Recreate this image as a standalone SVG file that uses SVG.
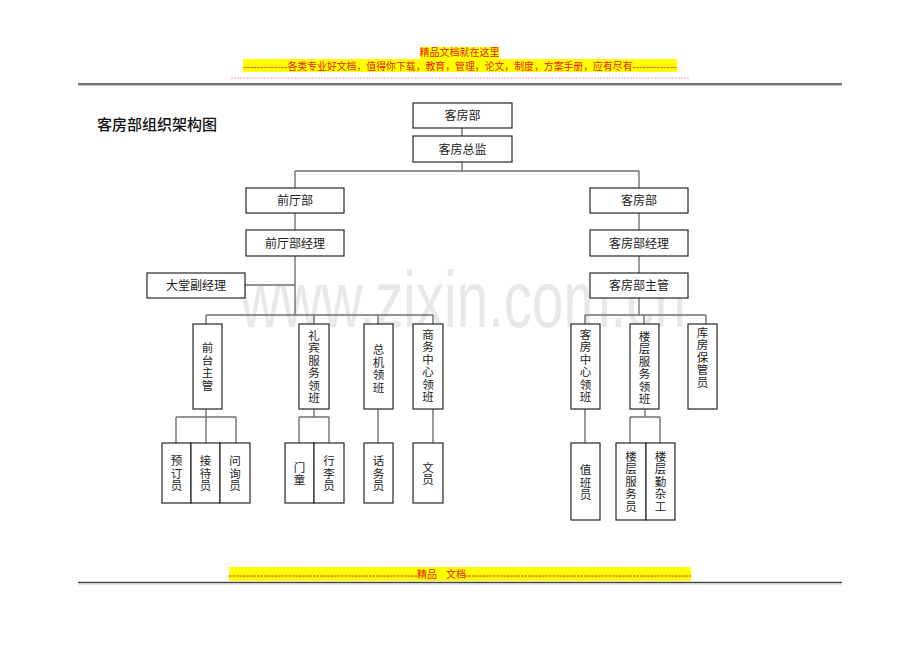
<svg xmlns="http://www.w3.org/2000/svg" width="920" height="651" viewBox="0 0 920 651">
<style>
.box{fill:#fff;stroke:#262626;stroke-width:1.2}
.t{font-family:"Noto Sans CJK SC","Noto Sans CJK JP",sans-serif;font-size:12px;fill:#222;text-anchor:middle}
.v{font-family:"Noto Sans CJK SC","Noto Sans CJK JP",sans-serif;font-size:11.5px;fill:#222;text-anchor:middle;writing-mode:vertical-rl;letter-spacing:1px}
.ln{stroke:#707070;stroke-width:1.4;fill:none}
.hdr{font-family:"Noto Sans CJK SC",sans-serif;font-size:10px;fill:#e8200c}
</style>
<rect width="920" height="651" fill="#fff"/>
<text x="240" y="327" font-family="Liberation Sans, Arial, sans-serif" font-size="80" fill="#e8e8e8" textLength="446" lengthAdjust="spacingAndGlyphs">www.zixin.com.cn</text>
<g id="header">
<rect x="420" y="47" width="79" height="12" fill="#ffff00"/>
<text class="hdr" x="459.5" y="55.5" text-anchor="middle">精品文档就在这里</text>
<rect x="243" y="59" width="434" height="13" fill="#ffff00"/>
<text class="hdr" x="243" y="70" textLength="434" lengthAdjust="spacingAndGlyphs">-------------各类专业好文档，值得你下载，教育，管理，论文，制度，方案手册，应有尽有-------------</text>
<line x1="231" y1="78" x2="689" y2="78" stroke="#f4a6b0" stroke-width="1.2" stroke-dasharray="2,1"/>
<line x1="78" y1="84" x2="842" y2="84" stroke="#444" stroke-width="1.4"/>
<line x1="78" y1="85.5" x2="842" y2="85.5" stroke="#ccc" stroke-width="1"/>
</g>
<text id="title" x="97" y="130" font-family="Noto Sans CJK SC, sans-serif" font-size="15" font-weight="500" fill="#111">客房部组织架构图</text>
<g id="connectors" class="ln">
<path d="M462 128V136M462 162V171M295 171H639M295 171V188M639 171V188"/>
<path d="M295 213V230M295 256V315M245 285H295M206 315H433M206 315V324M314 315V324M378 315V324M433 315V324"/>
<path d="M639 213V230M639 256V273M639 298V315M585 315H706M585 315V324M644 315V324M706 315V324"/>
<path d="M206 409V443M176 417H236M176 417V443M236 417V443"/>
<path d="M314 409V417M299 417H329M299 417V443M329 417V443"/>
<path d="M378 409V443M433 409V443"/>
<path d="M585 409V443M645 409V417M630 417H660M630 417V443M660 417V443"/>
</g>
<g id="n-kefangbu"><rect class="box" x="413" y="103" width="99" height="25"/><text class="t" x="462.5" y="120">客房部</text></g>
<g id="n-zongjian"><rect class="box" x="413" y="136" width="99" height="26"/><text class="t" x="462.5" y="153.5">客房总监</text></g>
<g id="n-qiantingbu"><rect class="box" x="246" y="188" width="98" height="25"/><text class="t" x="295" y="205">前厅部</text></g>
<g id="n-qiantingjingli"><rect class="box" x="246" y="230" width="98" height="26"/><text class="t" x="295" y="247.5">前厅部经理</text></g>
<g id="n-datang"><rect class="box" x="147" y="273" width="98" height="25"/><text class="t" x="196" y="290">大堂副经理</text></g>
<g id="n-kefangbu2"><rect class="box" x="590" y="188" width="98" height="25"/><text class="t" x="639" y="205">客房部</text></g>
<g id="n-kefangjingli"><rect class="box" x="590" y="230" width="98" height="26"/><text class="t" x="639" y="247.5">客房部经理</text></g>
<g id="n-kefangzhuguan"><rect class="box" x="590" y="273" width="98" height="25"/><text class="t" x="639" y="290">客房部主管</text></g>
<g id="n-qiantai"><rect class="box" x="193" y="324" width="29" height="85"/><text class="v" x="207.5" y="367">前台主管</text></g>
<g id="n-libin"><rect class="box" x="299" y="324" width="30" height="85"/><text class="v" x="314" y="367">礼宾服务领班</text></g>
<g id="n-zongji"><rect class="box" x="364" y="324" width="29" height="85"/><text class="v" x="378.5" y="369">总机领班</text></g>
<g id="n-shangwu"><rect class="box" x="413" y="324" width="30" height="85"/><text class="v" x="428" y="366">商务中心领班</text></g>
<g id="n-kefangzhongxin"><rect class="box" x="571" y="324" width="29" height="85"/><text class="v" x="585.5" y="366">客房中心领班</text></g>
<g id="n-loucenglingban"><rect class="box" x="630" y="324" width="29" height="85"/><text class="v" x="644.5" y="368">楼层服务领班</text></g>
<g id="n-kufang"><rect class="box" x="688" y="324" width="29" height="85"/><text class="v" x="702.5" y="358">库房保管员</text></g>
<g id="n-yuding"><rect class="box" x="162" y="443" width="29" height="60"/><text class="v" x="176.5" y="474">预订员</text></g>
<g id="n-jiedai"><rect class="box" x="191" y="443" width="29" height="60"/><text class="v" x="205.5" y="474">接待员</text></g>
<g id="n-wenxun"><rect class="box" x="220" y="443" width="30" height="60"/><text class="v" x="235" y="474">问询员</text></g>
<g id="n-mentong"><rect class="box" x="285" y="443" width="29" height="60"/><text class="v" x="299.5" y="474">门童</text></g>
<g id="n-xingli"><rect class="box" x="314" y="443" width="30" height="60"/><text class="v" x="329" y="474">行李员</text></g>
<g id="n-huawu"><rect class="box" x="364" y="443" width="29" height="60"/><text class="v" x="378.5" y="474">话务员</text></g>
<g id="n-wenyuan"><rect class="box" x="413" y="443" width="30" height="60"/><text class="v" x="428" y="474">文员</text></g>
<g id="n-zhiban"><rect class="box" x="571" y="443" width="29" height="77"/><text class="v" x="585.5" y="483">值班员</text></g>
<g id="n-louceng-fuwu"><rect class="box" x="616" y="443" width="30" height="77"/><text class="v" x="631" y="482">楼层服务员</text></g>
<g id="n-louceng-qinza"><rect class="box" x="646" y="443" width="29" height="77"/><text class="v" x="660.5" y="482">楼层勤杂工</text></g>
<g id="footer">
<rect x="229" y="567" width="462" height="14" fill="#ffff00"/>
<line x1="229" y1="576" x2="417" y2="576" stroke="#e8200c" stroke-width="1" stroke-dasharray="2.5,1"/>
<text class="hdr" x="417" y="578" font-size="11">精品</text>
<text class="hdr" x="446" y="578" font-size="11">文档</text>
<line x1="465" y1="576" x2="691" y2="576" stroke="#e8200c" stroke-width="1" stroke-dasharray="2.5,1"/>
<line x1="78" y1="582.5" x2="842" y2="582.5" stroke="#444" stroke-width="1.4"/>
<line x1="78" y1="584" x2="842" y2="584" stroke="#ccc" stroke-width="1"/>
</g>
</svg>
